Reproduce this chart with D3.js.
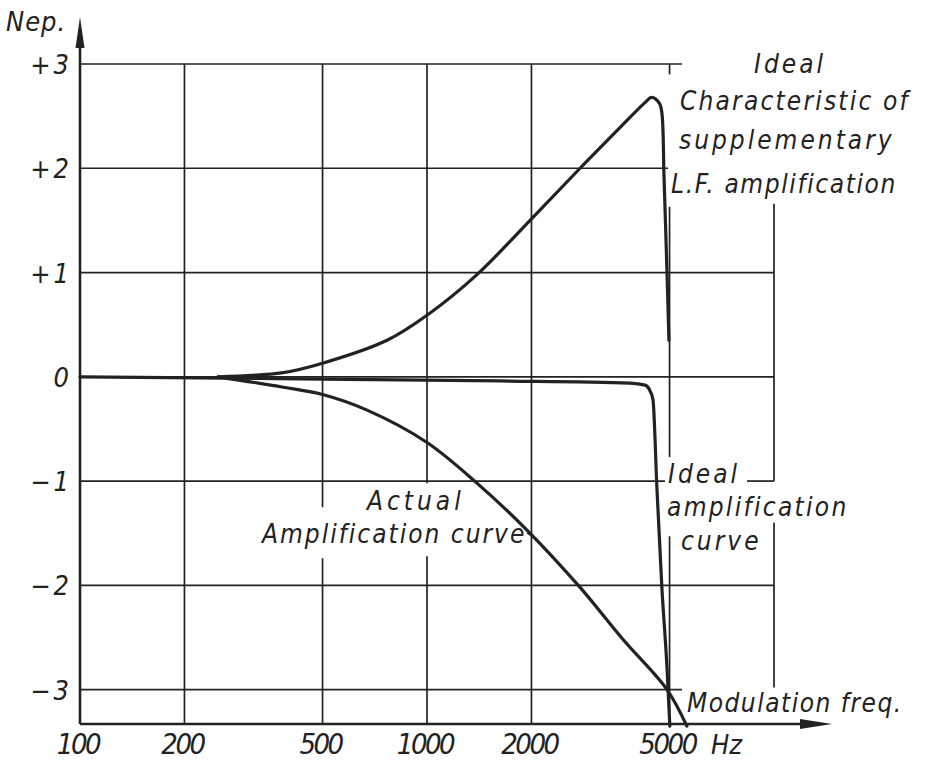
<!DOCTYPE html>
<html>
<head>
<meta charset="utf-8">
<script src="https://cdn.jsdelivr.net/npm/d3@7/dist/d3.min.js"></script>
<style>
  html, body { margin: 0; padding: 0; background: #fff; }
  svg { display: block; }
  text {
    font-family: "DejaVu Sans Condensed", "DejaVu Sans", sans-serif;
    font-style: italic;
    font-stretch: condensed;
    fill: #222;
  }
</style>
</head>
<body>
<svg id="chart" width="929" height="762"></svg>
<script>
// Frequency (Hz) grid and level (neper) grid
const freqTicks = [100, 200, 500, 1000, 2000, 5000];
const freqGrid = [200, 500, 1000, 2000, 5000, 10000];
const nepTicks = [3, 2, 1, 0, -1, -2, -3];
const nepTickLabels = ["+3", "+2", "+1", "0", "\u22121", "\u22122", "\u22123"];

// Ideal amplification curve: flat, then a sharp cut-off near 5 kHz
const idealFreq = [100, 430, 1620, 3850, 4250, 4400, 4480, 4600, 4750, 4920, 5010];
const idealNep  = [0, -0.02, -0.04, -0.06, -0.08, -0.14, -0.22, -1.08, -2.01, -2.81, -3.35];

// Actual amplification curve
const actualFreq = [250, 385, 500, 672, 1000, 1393, 1941, 2761, 3673, 4916, 5610];
const actualNep  = [0, -0.1, -0.17, -0.32, -0.63, -1.02, -1.47, -2.02, -2.52, -3.0, -3.35];

// Ideal characteristic of supplementary L.F. amplification
const suppFreq = [250, 385, 500, 767, 1000, 1393, 2007, 2761, 3597, 4248, 4443, 4680, 4753, 4820, 4916, 4980];
const suppNep  = [0, 0.04, 0.13, 0.35, 0.59, 0.98, 1.52, 2.0, 2.39, 2.63, 2.68, 2.62, 2.53, 1.92, 1.0, 0.35];

const svg = d3.select("#chart");
const ink = "#222";

const x = d3.scaleLog().domain([100, 10000]).range([80, 774]);
const y = d3.scaleLinear().domain([-3.33, 3]).range([724, 64]);

const grid = svg.append("g").attr("stroke", ink).attr("stroke-width", 1.7).attr("fill", "none");

// Horizontal grid lines, each as [level, [fromHz, toHz], ...segments]
const hLines = [
  [3, [100, 5430]],
  [2, [100, 4950]],
  [1, [100, 10000]],
  [0, [100, 10000]],
  [-1, [100, 4850], [8360, 10000]],
  [-2, [100, 10000]],
  [-3, [100, 5430]]
];
hLines.forEach(([v, ...segs]) => {
  segs.forEach(([a, b]) => {
    grid.append("line")
      .attr("x1", x(a)).attr("x2", x(b))
      .attr("y1", y(v)).attr("y2", y(v));
  });
});
// small tick under the top line at 5 kHz
grid.append("line").attr("x1", x(5000)).attr("x2", x(5000)).attr("y1", y(3)).attr("y2", y(2.9));

// Vertical grid lines, each as [freq, [fromNep, toNep], ...segments]
const vLines = [
  [200, [3, -3.33]],
  [500, [3, -1.25], [-1.74, -3.33]],
  [1000, [3, -1.02], [-1.72, -3.33]],
  [2000, [3, -3.33]],
  [5000, [1.63, -0.77], [-1.53, -3.33]],
  [10000, [1.66, -1.0], [-1.4, -2.98]]
];
vLines.forEach(([f, ...segs]) => {
  segs.forEach(([a, b]) => {
    grid.append("line")
      .attr("x1", x(f)).attr("x2", x(f))
      .attr("y1", y(a)).attr("y2", y(b));
  });
});

// Axes with arrow heads
const axes = svg.append("g").attr("stroke", ink).attr("stroke-width", 2.6).attr("fill", "none");
const x0 = x(100), yBase = y(-3.33);
axes.append("line").attr("x1", x0).attr("x2", x0).attr("y1", yBase).attr("y2", 40);
axes.append("line").attr("x1", x0).attr("x2", 805).attr("y1", yBase).attr("y2", yBase);
svg.append("path")
  .attr("d", `M${x0},17 L${x0 + 4.5},48 L${x0 - 4.5},48 Z`)
  .attr("fill", ink);
svg.append("path")
  .attr("d", `M832,${yBase} L800,${yBase - 5} L800,${yBase + 5} Z`)
  .attr("fill", ink);

// Curves
const smooth = d3.line()
  .x(d => x(d[0]))
  .y(d => y(d[1]))
  .curve(d3.curveCatmullRom.alpha(0.5));
const sharp = d3.line()
  .x(d => x(d[0]))
  .y(d => y(d[1]))
  .curve(d3.curveMonotoneX);

const curves = svg.append("g").attr("fill", "none").attr("stroke", ink)
  .attr("stroke-width", 3.2).attr("stroke-linejoin", "round").attr("stroke-linecap", "round");
curves.append("path").attr("d", sharp(d3.zip(idealFreq, idealNep)));
curves.append("path").attr("d", smooth(d3.zip(actualFreq, actualNep)));
curves.append("path").attr("d", smooth(d3.zip(suppFreq, suppNep)));

// Tick labels
const labels = svg.append("g");
labels.selectAll("text.ny").data(nepTicks).join("text")
  .attr("class", "ny")
  .attr("x", 72).attr("y", d => y(d) + 10)
  .attr("text-anchor", "end")
  .attr("font-size", 27)
  .attr("letter-spacing", 3)
  .text((d, i) => nepTickLabels[i]);

labels.selectAll("text.fx").data(freqTicks).join("text")
  .attr("class", "fx")
  .attr("x", d => x(d) - 2).attr("y", 754)
  .attr("text-anchor", "middle")
  .attr("font-size", 29)
  .attr("letter-spacing", -2.5)
  .text(d => d);
labels.append("text").attr("x", 711).attr("y", 754).attr("font-size", 27).text("Hz");

labels.append("text").attr("x", 6).attr("y", 31).attr("font-size", 27)
  .attr("letter-spacing", 1).text("Nep.");

// Annotations
const note = (txt, px, py, size, spacing) =>
  labels.append("text").attr("x", px).attr("y", py).attr("font-size", size)
    .attr("letter-spacing", spacing).text(txt);

note("Ideal", 754, 73, 26, 3);
note("Characteristic of", 680, 110, 26, 2.2);
note("supplementary", 679, 149, 26, 3);
note("L.F. amplification", 671, 193, 26, 1.6);

note("Ideal", 668, 483, 26, 3);
note("amplification", 667, 516, 26, 2.3);
note("curve", 681, 550, 26, 3);

note("Actual", 367, 510, 26, 4);
note("Amplification curve", 262, 543, 26, 2);
svg.append("line").attr("stroke", ink).attr("stroke-width", 1.5)
  .attr("x1", 527).attr("y1", 533).attr("x2", 533).attr("y2", 537);

note("Modulation freq.", 687, 712, 26, 1.5);
</script>
</body>
</html>
